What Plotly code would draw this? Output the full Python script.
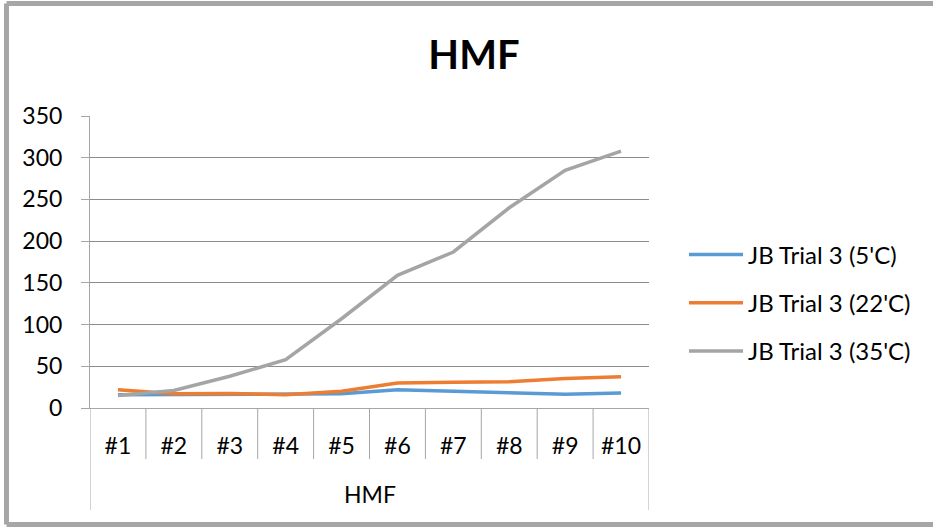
import plotly.graph_objects as go

# Samples along the x axis and the measured series
samples = ["#1", "#2", "#3", "#4", "#5", "#6", "#7", "#8", "#9", "#10"]
trial_5c = [16, 16, 17, 17, 17, 22, 20, 18, 16.5, 18]
trial_22c = [22, 17, 17.5, 16, 20, 30, 31, 31.5, 35.5, 37.5]
trial_35c = [15, 21, 38, 58, 107, 159, 187, 240, 285, 308]

series_names = ["JB Trial 3 (5'C)", "JB Trial 3 (22'C)", "JB Trial 3 (35'C)"]
series_colors = ["#5b9bd5", "#ed7d31", "#a5a5a5"]
y_ticks = [0, 50, 100, 150, 200, 250, 300, 350]

FONT = "Lato"
W, H = 933, 527
L, R, T, B = 90, 649, 116, 408

fig = go.Figure()
for i, (name, vals, col) in enumerate(zip(series_names, [trial_5c, trial_22c, trial_35c], series_colors)):
    fig.add_trace(go.Scatter(
        x=samples, y=vals, name=name, mode="lines",
        line=dict(color=col, width=3.5),
        legendgroup=f"g{i}",
    ))

shapes = []
# divider lines between the sample labels
for k in range(1, len(samples)):
    shapes.append(dict(type="line", xref="x", yref="paper", ysizemode="pixel", yanchor=0,
                       x0=k - 0.5, x1=k - 0.5, y0=0, y1=-51,
                       line=dict(color="#a6a6a6", width=1)))
# outer dividers enclosing the group label
for xe in (-0.5, len(samples) - 0.5):
    shapes.append(dict(type="line", xref="x", yref="paper", ysizemode="pixel", yanchor=0,
                       x0=xe, x1=xe, y0=0, y1=-102,
                       line=dict(color="#a6a6a6", width=1)))
# chart frame: left, top and bottom edges (open on the right)
frame_x0 = (6.5 - L) / (R - L)
frame_x1 = (W - L) / (R - L)
frame_top = (B - 3.5) / (B - T)
frame_bot = (B - 524.5) / (B - T)
for (x0, x1, y0, y1) in [(frame_x0, frame_x0, frame_bot, frame_top),
                         (frame_x0, frame_x1, frame_top, frame_top),
                         (frame_x0, frame_x1, frame_bot, frame_bot)]:
    shapes.append(dict(type="line", xref="paper", yref="paper",
                       x0=x0, x1=x1, y0=y0, y1=y1,
                       line=dict(color="#a6a6a6", width=5)))

fig.update_layout(
    width=W, height=H,
    margin=dict(l=L, r=W - R, t=T, b=H - B),
    paper_bgcolor="white", plot_bgcolor="white",
    font=dict(family=FONT, size=23, color="#000000"),
    title=dict(text="<b>HMF</b>", font=dict(family=FONT, size=40, color="#000000"),
               xref="container", yref="container", x=474 / W, y=1 - 55 / H,
               xanchor="center", yanchor="middle"),
    xaxis=dict(type="category", range=[-0.5, len(samples) - 0.5],
               showgrid=False, showline=True, linecolor="#a6a6a6", linewidth=1,
               ticks="", ticklabelstandoff=17, tickfont=dict(size=23),
               fixedrange=True),
    yaxis=dict(range=[0, 350], tickvals=y_ticks, showgrid=True, gridcolor="#8c8c8c",
               gridwidth=1, showline=True, linecolor="#a6a6a6", linewidth=1,
               ticks="outside", ticklen=8, tickcolor="#a6a6a6",
               ticklabelstandoff=14, tickfont=dict(size=23), zeroline=False,
               fixedrange=True),
    legend=dict(xref="container", yref="container", x=684 / W, y=1 - 303 / H,
                xanchor="left", yanchor="middle", tracegroupgap=14,
                font=dict(family=FONT, size=24), itemwidth=54,
                bgcolor="rgba(0,0,0,0)"),
    shapes=shapes,
    annotations=[dict(text="HMF", xref="paper", yref="paper", x=0.5, y=0,
                      yshift=-86, showarrow=False, font=dict(family=FONT, size=23),
                      xanchor="center", yanchor="middle")],
)

fig.write_html("out.html")
